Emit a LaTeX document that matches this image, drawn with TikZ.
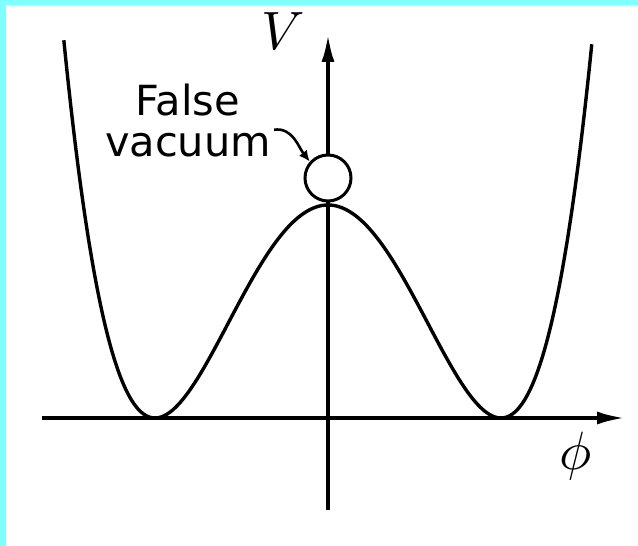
\documentclass[tikz,border=0pt]{standalone}
\usepackage{graphicx}
\usepackage{fontspec}
\newfontfamily\labelfont{DejaVu Sans}
\usetikzlibrary{arrows.meta}
\definecolor{framecyan}{RGB}{128,255,255}
\tikzset{
  axis/.style={line width=3.8pt,-{Latex[length=28pt,width=13pt]}},
  potential/.style={line width=3.4pt},
  mathlabel/.style={inner sep=0pt},
  textlabel/.style={inner sep=0pt,align=center,font=\labelfont\fontsize{41.5}{41}\selectfont},
  ball/.style={circle,draw,line width=3pt,minimum size=46pt,inner sep=0pt,fill=white},
  pointer/.style={line width=2.6pt,-{Latex[length=11pt,width=10pt]}}
}
\begin{document}
\begin{tikzpicture}[x=1pt,y=1pt]
\useasboundingbox (0,0) rectangle (638,546);
\fill[framecyan] (0,0) rectangle (638,546);
\fill[white] (6,0) rectangle (638,541);
% axes
\coordinate (xstart) at (42,128);
\coordinate (xend) at (625,128);
\coordinate (ystart) at (328,36);
\coordinate (yend) at (328,512);
\draw[axis] (xstart) -- (xend);
\draw[axis] (ystart) -- (yend);
% potential
\draw[potential] plot[smooth,samples=200,domain=-1.527:1.527,variable=\r]
  ({328+173*\r},{128+213*(\r*\r-1)*(\r*\r-1)});
% false vacuum ball
\node[ball] (vac) at (328,368) {};
% labels
\node[mathlabel] (vlab) at (283,515) {\scalebox{5.4}{$V$}};
\node[mathlabel] (philab) at (576,90) {\scalebox{5.4}{$\phi$}};
\node[textlabel,anchor=north] (lbl) at (188,462) {False\\vacuum};
\draw[pointer] ([xshift=3pt,yshift=-9pt]lbl.east) to[out=8,in=128] (vac.138);
\end{tikzpicture}
\end{document}
